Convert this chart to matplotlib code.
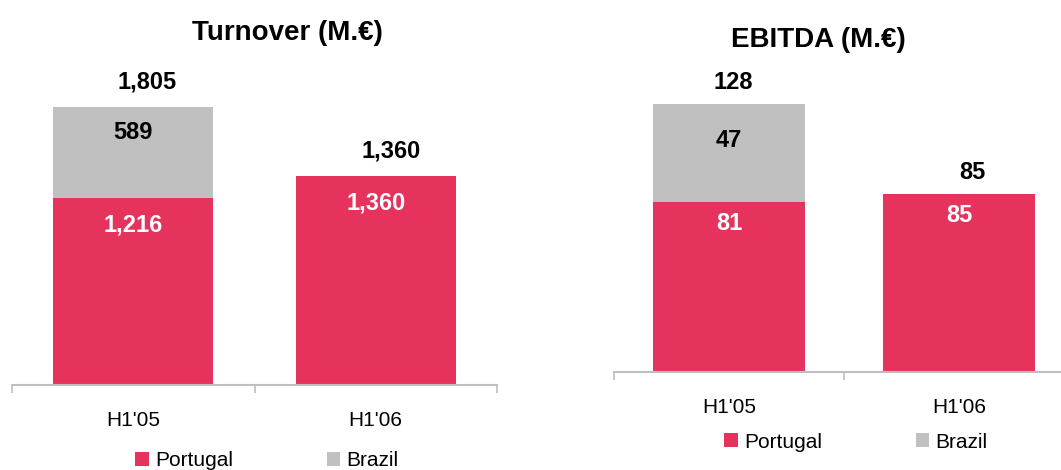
import matplotlib
matplotlib.use('Agg')
import matplotlib.pyplot as plt

plt.rcParams['font.family'] = ['Liberation Sans', 'DejaVu Sans']

periods = ["H1'05", "H1'06"]
turn_portugal = [1216, 1360]
turn_brazil = [589, 0]
ebitda_portugal = [81, 85]
ebitda_brazil = [47, 0]

pink = '#E5335E'
grey = '#C0C0C0'
axis_grey = '#BFBFBF'

fig = plt.figure(figsize=(10.61, 4.70), dpi=100)
W, H = 1061, 470


def draw(ax, portugal, brazil, ymax, lab_off, tot_dx):
    x = range(len(periods))
    b1 = ax.bar(x, portugal, width=0.66, color=pink, label='Portugal')
    b2 = ax.bar(x, brazil, width=0.66, bottom=portugal, color=grey, label='Brazil')
    ax.set_xlim(-0.5, 1.5)
    ax.set_ylim(0, ymax)
    for s in ['top', 'left', 'right']:
        ax.spines[s].set_visible(False)
    ax.spines['bottom'].set_color(axis_grey)
    ax.spines['bottom'].set_linewidth(1.5)
    ax.set_yticks([])
    ax.set_xticks(list(x))
    ax.set_xticklabels(periods, fontsize=15)
    ax.tick_params(axis='x', which='major', length=0, pad=19)
    ax.set_xticks([-0.5, 0.5, 1.5], minor=True)
    ax.tick_params(axis='x', which='minor', length=6, width=1.2, color=axis_grey)
    for i in x:
        p, b = portugal[i], brazil[i]
        tot = p + b
        # label inside the Portugal part
        ax.annotate(f'{p:,}', (i, p), xytext=(0, -lab_off[0]), textcoords='offset pixels',
                    ha='center', va='center', color='white', fontsize=17, fontweight='bold')
        if b:
            ax.annotate(f'{b:,}', (i, tot), xytext=(0, -lab_off[1]), textcoords='offset pixels',
                        ha='center', va='center', color='black', fontsize=17, fontweight='bold')
        ax.annotate(f'{tot:,}', (i, tot), xytext=(tot_dx[i], lab_off[2]), textcoords='offset pixels',
                    ha='center', va='center', color='black', fontsize=17, fontweight='bold')
    return b1, b2


# Turnover
ax1 = fig.add_axes([12 / W, 1 - 385 / H, 485 / W, 308 / H])
h1 = draw(ax1, turn_portugal, turn_brazil, 2000, (27, 25, 25), (14, 15))
fig.text(287 / W, 1 - 33 / H, 'Turnover (M.€)', ha='center', va='center',
         fontsize=20, fontweight='bold')
fig.legend(h1, ['Portugal', 'Brazil'], loc='center left', bbox_to_anchor=(135 / W, 1 - 461 / H),
           ncol=2, frameon=False, fontsize=15, handlelength=0.65, handleheight=0.65,
           handletextpad=0.3, columnspacing=4.5, borderpad=0, borderaxespad=0)

# EBITDA
ax2 = fig.add_axes([614 / W, 1 - 372 / H, 460 / W, 293 / H])
h2 = draw(ax2, ebitda_portugal, ebitda_brazil, 140, (21, 36, 22), (4, 13))
fig.text(818 / W, 1 - 40 / H, 'EBITDA (M.€)', ha='center', va='center',
         fontsize=20, fontweight='bold')
fig.legend(h2, ['Portugal', 'Brazil'], loc='center left', bbox_to_anchor=(724 / W, 1 - 442 / H),
           ncol=2, frameon=False, fontsize=15, handlelength=0.65, handleheight=0.65,
           handletextpad=0.3, columnspacing=4.5, borderpad=0, borderaxespad=0)

fig.savefig('out.png', dpi=100)
